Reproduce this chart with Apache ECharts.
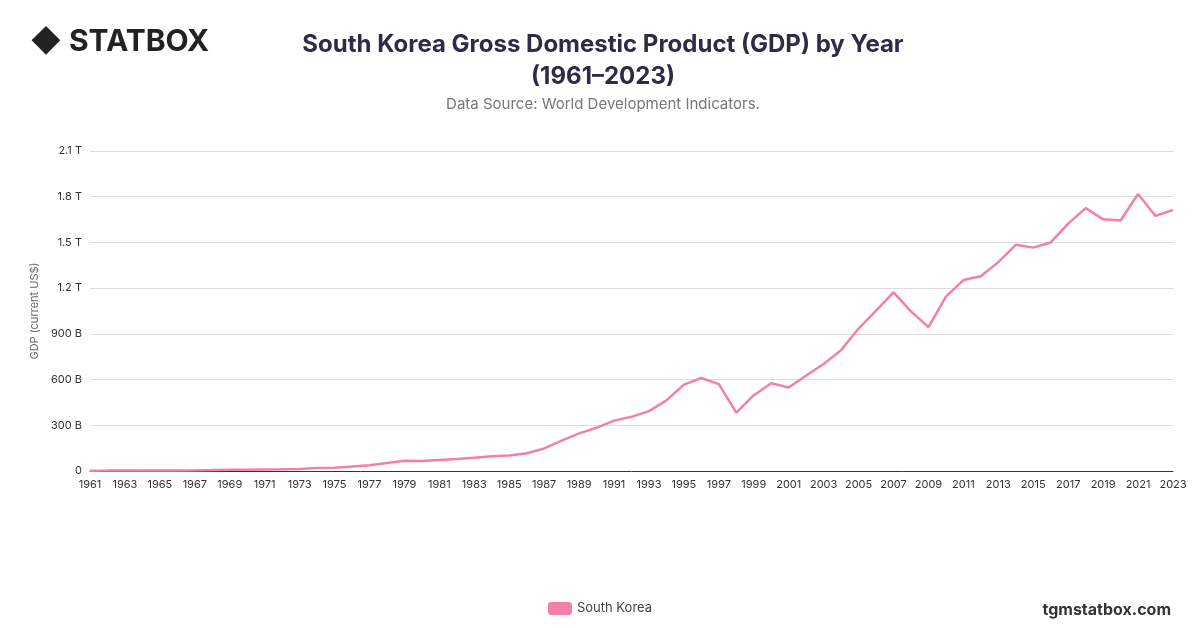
<!DOCTYPE html>
<html><head><meta charset="utf-8">
<script src="https://cdn.jsdelivr.net/npm/echarts@6/dist/echarts.min.js"></script>
<style>html,body{margin:0;padding:0;background:#fff}#c{width:1200px;height:628px}</style>
</head><body><div id="c"></div>
<script>
const years = [];
for (let y = 1961; y <= 2023; y++) years.push(String(y));
const gdpBillions = [2.42,2.81,3.99,3.46,3.12,3.93,4.86,6.12,7.68,9.00,9.90,10.8,13.9,19.5,21.8,30.0,38.3,52.0,66.6,65.4,72.9,78.3,87.0,96.6,101.3,116.8,147.9,199.6,246.9,283.4,330.6,355.5,392.7,463.6,566.6,610.2,569.8,383.3,497.5,576.2,547.7,627.2,702.7,793.2,934.9,1053.2,1172.6,1047.3,943.9,1144.1,1253.2,1278.4,1370.8,1484.5,1466.0,1499.7,1623.1,1725.4,1651.4,1644.3,1818.4,1673.9,1712.8];
const seriesName = 'South Korea';
const chart = echarts.init(document.getElementById('c'));
chart.setOption({
  animation:false,
  title:[
    {text:'South Korea Gross Domestic Product (GDP) by Year\n(1961–2023)',left:598,top:24,textAlign:'center',
     textStyle:{fontFamily:'Inter',fontSize:24,fontWeight:'bold',color:'#2f2b45',lineHeight:32}},
    {text:'Data Source: World Development Indicators.',left:598,top:92,textAlign:'center',
     textStyle:{fontFamily:'Inter',fontSize:15,fontWeight:'normal',color:'#777'}},
    {text:'◆ STATBOX',left:25,top:22,textStyle:{fontFamily:'Inter',fontSize:30,fontWeight:'bold',color:'#222'}},
    {text:'tgmstatbox.com',right:24,top:597,textStyle:{fontFamily:'Inter',fontSize:16,fontWeight:'bold',color:'#333'}}
  ],
  grid:{left:90,right:27,top:151,bottom:157},
  legend:{bottom:8,left:'center',itemWidth:24,itemHeight:13,icon:'roundRect',
    textStyle:{fontFamily:'Inter',fontSize:13,color:'#444'},data:[seriesName]},
  xAxis:{type:'category',data:years,boundaryGap:false,
    axisLine:{lineStyle:{color:'#333'}},axisTick:{show:false},
    axisLabel:{interval:1,fontFamily:'Inter',fontSize:11,color:'#333'}},
  yAxis:{type:'value',min:0,max:2100,interval:300,
    name:'GDP (current US$)',nameLocation:'middle',nameGap:48,
    nameTextStyle:{fontFamily:'Inter',fontSize:11,color:'#666'},
    axisLine:{show:false},axisTick:{show:false},
    splitLine:{lineStyle:{color:'#ddd'}},
    axisLabel:{fontFamily:'Inter',fontSize:11,color:'#333',
      formatter:v=>v===0?'0':(v>=1000?(v/1000)+' T':v+' B')}},
  series:[{name:seriesName,type:'line',data:gdpBillions,showSymbol:false,
    lineStyle:{color:'#f47fab',width:2.5},itemStyle:{color:'#f47fab'}}]
});
</script></body></html>
